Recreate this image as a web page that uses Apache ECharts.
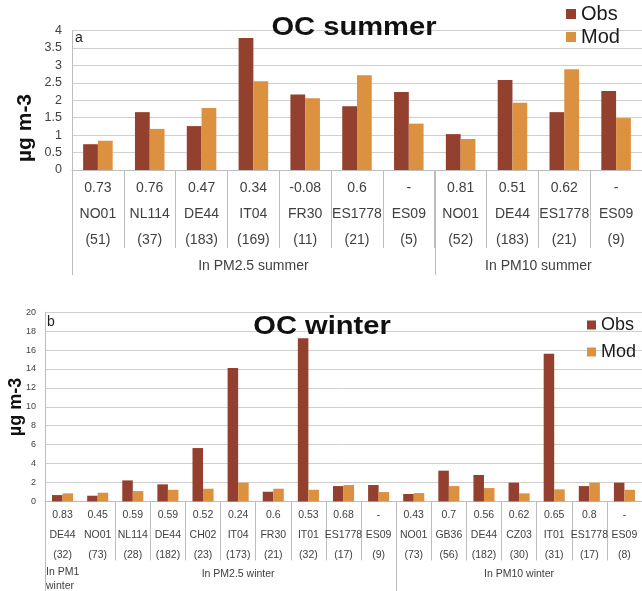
<!DOCTYPE html>
<html>
<head>
<meta charset="utf-8">
<script src="https://cdn.jsdelivr.net/npm/echarts@6/dist/echarts.min.js"></script>
<style>
  html, body { margin: 0; padding: 0; background: #ffffff; overflow: hidden; }
  #chart { width: 642px; height: 591px; }
</style>
</head>
<body>
<div id="chart"></div>
<script>
// ---- OC summer (panel a) ----
const summerStations = ['NO01', 'NL114', 'DE44', 'IT04', 'FR30', 'ES1778', 'ES09', 'NO01', 'DE44', 'ES1778', 'ES09'];
const summerR = ['0.73', '0.76', '0.47', '0.34', '-0.08', '0.6', '-', '0.81', '0.51', '0.62', '-'];
const summerN = [51, 37, 183, 169, 11, 21, 5, 52, 183, 21, 9];
const summerObs = [0.74, 1.66, 1.26, 3.79, 2.17, 1.83, 2.24, 1.03, 2.58, 1.66, 2.27];
const summerMod = [0.84, 1.18, 1.78, 2.55, 2.06, 2.72, 1.33, 0.89, 1.93, 2.89, 1.49];
const summerGroupNames = ['In PM2.5 summer', 'In PM10 summer'];
const summerGroupSizes = [7, 4];

// ---- OC winter (panel b) ----
const winterStations = ['DE44', 'NO01', 'NL114', 'DE44', 'CH02', 'IT04', 'FR30', 'IT01', 'ES1778', 'ES09',
                        'NO01', 'GB36', 'DE44', 'CZ03', 'IT01', 'ES1778', 'ES09'];
const winterR = ['0.83', '0.45', '0.59', '0.59', '0.52', '0.24', '0.6', '0.53', '0.68', '-',
                 '0.43', '0.7', '0.56', '0.62', '0.65', '0.8', '-'];
const winterN = [32, 73, 28, 182, 23, 173, 21, 32, 17, 9, 73, 56, 182, 30, 31, 17, 8];
const winterObs = [0.67, 0.60, 2.22, 1.80, 5.64, 14.1, 1.02, 17.25, 1.62, 1.73,
                   0.78, 3.25, 2.79, 1.98, 15.6, 1.62, 1.98];
const winterMod = [0.85, 0.92, 1.09, 1.23, 1.34, 1.98, 1.34, 1.23, 1.73, 0.99,
                   0.88, 1.62, 1.41, 0.85, 1.27, 1.98, 1.23];
const winterGroupNames = ['In PM1\nwinter', 'In PM2.5 winter', 'In PM10 winter'];
const winterGroupSizes = [1, 9, 7];

const seriesNames = ['Obs', 'Mod'];

const OBS_COLOR = '#93402F';
const MOD_COLOR = '#DB9140';
const GRID_COLOR = '#cfcfcf';
const AXIS_COLOR = '#bdbdbd';
const TEXT_COLOR = '#404040';
const FONT = '"Liberation Sans", Arial, sans-serif';

const chart = echarts.init(document.getElementById('chart'), null, { renderer: 'canvas' });

function categoryAxis(gridIndex, stations, rVals, nVals, o) {
  return {
    type: 'category',
    gridIndex: gridIndex,
    data: stations,
    boundaryGap: true,
    axisLine: { show: true, lineStyle: { color: AXIS_COLOR, width: 1 } },
    axisTick: {
      show: true,
      alignWithLabel: false,
      length: o.tickLength,
      interval: function (idx) { return o.hiddenBoundaries.indexOf(idx) < 0; },
      lineStyle: { color: AXIS_COLOR, width: 1 }
    },
    axisLabel: {
      interval: 0,
      margin: o.labelMargin,
      fontSize: o.labelSize,
      lineHeight: o.labelLine,
      color: TEXT_COLOR,
      fontFamily: FONT,
      formatter: function (value, idx) {
        return rVals[idx] + '\n' + value + '\n(' + nVals[idx] + ')';
      }
    },
    splitLine: { show: false }
  };
}

function valueAxis(gridIndex, max, step, o) {
  return {
    type: 'value',
    gridIndex: gridIndex,
    min: 0,
    max: max,
    interval: step,
    axisLine: { show: true, lineStyle: { color: AXIS_COLOR, width: 1 } },
    axisTick: { show: false },
    axisLabel: { fontSize: o.labelSize, color: TEXT_COLOR, fontFamily: FONT, margin: o.labelMargin },
    splitLine: { show: true, lineStyle: { color: GRID_COLOR, width: 1 } }
  };
}

function barSeries(name, xi, data, color, catGap) {
  return {
    type: 'bar',
    name: name,
    xAxisIndex: xi,
    yAxisIndex: xi,
    data: data,
    barGap: '0%',
    barCategoryGap: catGap,
    itemStyle: { color: color },
    emphasis: { disabled: true },
    animation: false
  };
}

const panels = [
  { groupsNames: summerGroupNames, groupSizes: summerGroupSizes, hiddenBoundaries: [],
    groupLineEnd: 275, groupLabelY: 266, groupLabelSize: 14 },
  { groupsNames: winterGroupNames, groupSizes: winterGroupSizes, hiddenBoundaries: [1],
    groupLineEnd: 591, groupLabelY: 574, groupLabelSize: 10.5 }
];

const option = {
  backgroundColor: '#ffffff',
  animation: false,
  grid: [
    { left: 72, top: 30.6, width: 576.6, height: 139.4, containLabel: false },
    { left: 45, top: 312.2, width: 598.4, height: 189.2, containLabel: false }
  ],
  xAxis: [
    categoryAxis(0, summerStations, summerR, summerN,
      { tickLength: 78, hiddenBoundaries: [], labelMargin: 5, labelSize: 14, labelLine: 26 }),
    categoryAxis(1, winterStations, winterR, winterN,
      { tickLength: 59, hiddenBoundaries: [1], labelMargin: 4, labelSize: 10.5, labelLine: 20 })
  ],
  yAxis: [
    valueAxis(0, 4, 0.5, { labelSize: 12.5, labelMargin: 10 }),
    valueAxis(1, 20, 2, { labelSize: 9, labelMargin: 9 })
  ],
  legend: [
    {
      data: seriesNames, orient: 'vertical', left: 566, top: 4, padding: 0,
      icon: 'rect', itemWidth: 10, itemHeight: 10, itemGap: 3,
      selectedMode: false,
      textStyle: { fontSize: 20, color: '#1a1a1a', fontFamily: FONT }
    },
    {
      data: seriesNames, orient: 'vertical', left: 587, top: 316, padding: 0,
      icon: 'rect', itemWidth: 9, itemHeight: 9, itemGap: 9,
      selectedMode: false,
      textStyle: { fontSize: 18, color: '#1a1a1a', fontFamily: FONT }
    }
  ],
  series: [
    barSeries('Obs', 0, summerObs, OBS_COLOR, '43%'),
    barSeries('Mod', 0, summerMod, MOD_COLOR, '43%'),
    barSeries('Obs', 1, winterObs, OBS_COLOR, '40%'),
    barSeries('Mod', 1, winterMod, MOD_COLOR, '40%')
  ]
};

chart.setOption(option);

// Group labels, long group separators, titles and axis names
function buildGraphics() {
  const els = [];
  panels.forEach(function (p, ai) {
    const c0 = chart.convertToPixel({ xAxisIndex: ai }, 0);
    const c1 = chart.convertToPixel({ xAxisIndex: ai }, 1);
    const band = c1 - c0;
    const axisY = chart.convertToPixel({ yAxisIndex: ai }, 0);
    let start = 0;
    p.groupSizes.forEach(function (size, gi) {
      const left = c0 - band / 2 + start * band;
      const right = left + size * band;
      if (p.hiddenBoundaries.indexOf(start) < 0) {
        const lx = Math.round(left) + 0.5;
        els.push({
          type: 'line', z: 50, silent: true,
          shape: { x1: lx, y1: axisY, x2: lx, y2: p.groupLineEnd },
          style: { stroke: AXIS_COLOR, lineWidth: 1 }
        });
      }
      if (size === 1) {
        els.push({
          type: 'text', z: 50, silent: true, x: left + 1, y: p.groupLabelY + 5,
          style: {
            text: p.groupsNames[gi], fill: TEXT_COLOR, font: p.groupLabelSize + 'px ' + FONT,
            align: 'left', verticalAlign: 'middle', lineHeight: 14.5
          }
        });
      } else {
        els.push({
          type: 'text', z: 50, silent: true, x: (left + right) / 2, y: p.groupLabelY,
          style: {
            text: p.groupsNames[gi], fill: TEXT_COLOR, font: p.groupLabelSize + 'px ' + FONT,
            align: 'center', verticalAlign: 'middle'
          }
        });
      }
      start += size;
    });
  });

  // panel titles (wide bold face)
  els.push({
    type: 'text', z: 60, silent: true, x: 354, y: 28, scaleX: 1.12,
    style: { text: 'OC summer', fill: '#111111', font: 'bold 26px ' + FONT,
             align: 'center', verticalAlign: 'middle' }
  });
  els.push({
    type: 'text', z: 60, silent: true, x: 322, y: 327, scaleX: 1.12,
    style: { text: 'OC winter', fill: '#111111', font: 'bold 26px ' + FONT,
             align: 'center', verticalAlign: 'middle' }
  });

  // panel letters
  els.push({
    type: 'text', z: 60, silent: true, x: 75, y: 38,
    style: { text: 'a', fill: '#222222', font: '14px ' + FONT, align: 'left', verticalAlign: 'middle' }
  });
  els.push({
    type: 'text', z: 60, silent: true, x: 47, y: 322,
    style: { text: 'b', fill: '#222222', font: '14px ' + FONT, align: 'left', verticalAlign: 'middle' }
  });

  // y-axis names
  els.push({
    type: 'text', z: 60, silent: true, x: 25, y: 128, rotation: Math.PI / 2,
    style: { text: 'µg m-3', fill: '#111111', font: 'bold 21px ' + FONT, align: 'center', verticalAlign: 'middle' }
  });
  els.push({
    type: 'text', z: 60, silent: true, x: 16, y: 407, rotation: Math.PI / 2,
    style: { text: 'µg m-3', fill: '#111111', font: 'bold 18px ' + FONT, align: 'center', verticalAlign: 'middle' }
  });

  chart.setOption({ graphic: { elements: els } });
}

buildGraphics();
</script>
</body>
</html>
